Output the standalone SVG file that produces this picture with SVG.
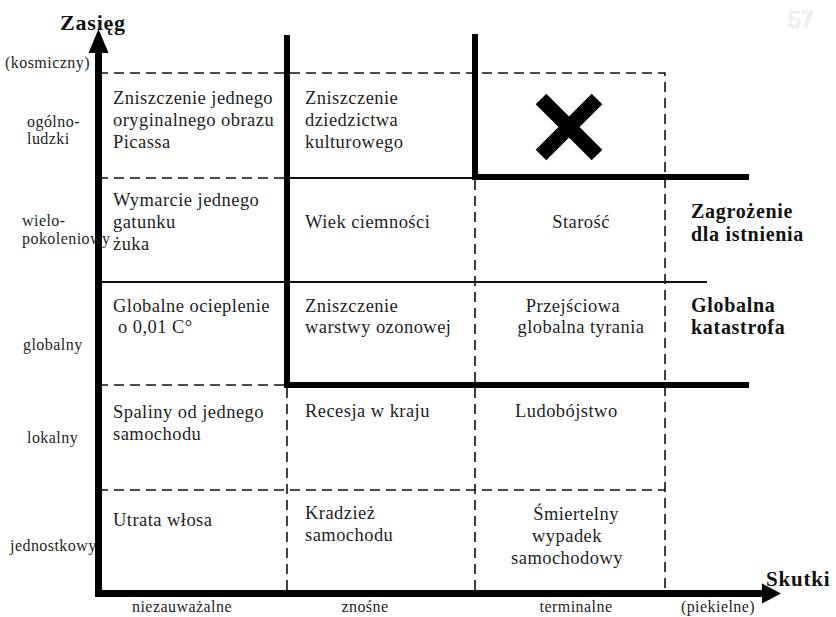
<svg xmlns="http://www.w3.org/2000/svg" width="836" height="617" viewBox="0 0 836 617">
<style>
  .t { font-family: "Liberation Serif", "Times New Roman", serif; font-size: 18.5px; letter-spacing: 0.45px; fill: #1e1e1e; }
  .ax { font-family: "Liberation Serif", "Times New Roman", serif; font-size: 16px; letter-spacing: 0.45px; fill: #1e1e1e; }
  .b { font-family: "Liberation Serif", "Times New Roman", serif; font-weight: bold; font-size: 20px; letter-spacing: 0.7px; fill: #111; }
  .m { text-anchor: middle; }
  .dash { stroke: #111; stroke-width: 1.6; stroke-dasharray: 10 6; fill: none; }
  .thin { stroke: #111; stroke-width: 2; fill: none; }
  .thick { stroke: #000; stroke-width: 6; fill: none; }
  .axis { stroke: #000; stroke-width: 7; fill: none; }
</style>
<rect width="836" height="617" fill="#fff"/>

<g id="grid">
  <path class="dash" d="M98 73 H665 V590"/>
  <path class="dash" d="M98 178 H287"/>
  <path class="dash" d="M98 385 H287"/>
  <path class="dash" d="M98 490 H665"/>
  <path class="dash" d="M287 388 V590"/>
  <path class="dash" d="M475 180 V590"/>
  <path class="thin" d="M287 178 H475"/>
  <path class="thin" d="M98 282 H707"/>
</g>

<g id="connectors">
  <path class="thick" d="M287 35 V385 H749"/>
  <path class="thick" d="M475 34 V177 H749"/>
  <path class="axis" d="M98.5 597 V50"/>
  <polygon points="98.5,29 88.5,53 108.5,53" fill="#000"/>
  <path class="axis" d="M95 593.5 H764"/>
  <polygon points="781,593.5 762,583.5 762,603.5" fill="#000"/>
</g>

<g id="axis-labels">
  <text class="b" x="60" y="30" style="font-size:22px;letter-spacing:0.8px">Zasięg</text>
  <text class="b" x="766" y="586" style="font-size:21px;letter-spacing:0.8px">Skutki</text>
  <text class="ax" x="5" y="68">(kosmiczny)</text>
  <text class="ax" x="27" y="127">ogólno-</text>
  <text class="ax" x="27" y="144">ludzki</text>
  <text class="ax" x="22" y="226">wielo-</text>
  <text class="ax" x="22" y="244">pokoleniowy</text>
  <text class="ax" x="23" y="350">globalny</text>
  <text class="ax" x="27" y="443">lokalny</text>
  <text class="ax" x="10" y="551">jednostkowy</text>
  <text class="ax" x="132" y="612">niezauważalne</text>
  <text class="ax m" x="365" y="612">znośne</text>
  <text class="ax m" x="576" y="612">terminalne</text>
  <text class="ax m" x="718" y="612">(piekielne)</text>
</g>

<g id="cell-r1c1">
  <text class="t" x="113" y="104">Zniszczenie jednego</text>
  <text class="t" x="113" y="126">oryginalnego obrazu</text>
  <text class="t" x="113" y="148">Picassa</text>
</g>
<g id="cell-r1c2">
  <text class="t" x="305" y="104">Zniszczenie</text>
  <text class="t" x="305" y="126">dziedzictwa</text>
  <text class="t" x="305" y="148">kulturowego</text>
</g>
<g id="cell-r1c3">
  <path d="M541 99 L597 155 M597 99 L541 155" stroke="#000" stroke-width="15" fill="none"/>
</g>

<g id="cell-r2c1">
  <text class="t" x="113" y="206">Wymarcie jednego</text>
  <text class="t" x="113" y="228">gatunku</text>
  <text class="t" x="113" y="250">żuka</text>
</g>
<g id="cell-r2c2">
  <text class="t" x="305" y="228">Wiek ciemności</text>
</g>
<g id="cell-r2c3">
  <text class="t m" x="581" y="228">Starość</text>
</g>
<g id="label-existential">
  <text class="b" x="691" y="218">Zagrożenie</text>
  <text class="b" x="691" y="241">dla istnienia</text>
</g>

<g id="cell-r3c1">
  <text class="t" x="113" y="312">Globalne ocieplenie</text>
  <text class="t" x="118" y="333">o 0,01 C°</text>
</g>
<g id="cell-r3c2">
  <text class="t" x="305" y="312">Zniszczenie</text>
  <text class="t" x="305" y="333">warstwy ozonowej</text>
</g>
<g id="cell-r3c3">
  <text class="t m" x="573" y="312">Przejściowa</text>
  <text class="t m" x="581" y="333">globalna tyrania</text>
</g>
<g id="label-global">
  <text class="b" x="691" y="312">Globalna</text>
  <text class="b" x="691" y="334">katastrofa</text>
</g>

<g id="cell-r4c1">
  <text class="t" x="113" y="418">Spaliny od jednego</text>
  <text class="t" x="113" y="440">samochodu</text>
</g>
<g id="cell-r4c2">
  <text class="t" x="305" y="417">Recesja w kraju</text>
</g>
<g id="cell-r4c3">
  <text class="t" x="515" y="417">Ludobójstwo</text>
</g>

<g id="cell-r5c1">
  <text class="t" x="113" y="526">Utrata włosa</text>
</g>
<g id="cell-r5c2">
  <text class="t" x="305" y="519">Kradzież</text>
  <text class="t" x="305" y="541">samochodu</text>
</g>
<g id="cell-r5c3">
  <text class="t m" x="576" y="520">Śmiertelny</text>
  <text class="t m" x="567" y="542">wypadek</text>
  <text class="t m" x="567" y="564">samochodowy</text>
</g>

<g id="page-number">
  <text x="788" y="28" font-family="Liberation Sans, sans-serif" font-size="23" fill="#fff" stroke="#e0e0e0" stroke-width="0.7">57</text>
</g>
</svg>
